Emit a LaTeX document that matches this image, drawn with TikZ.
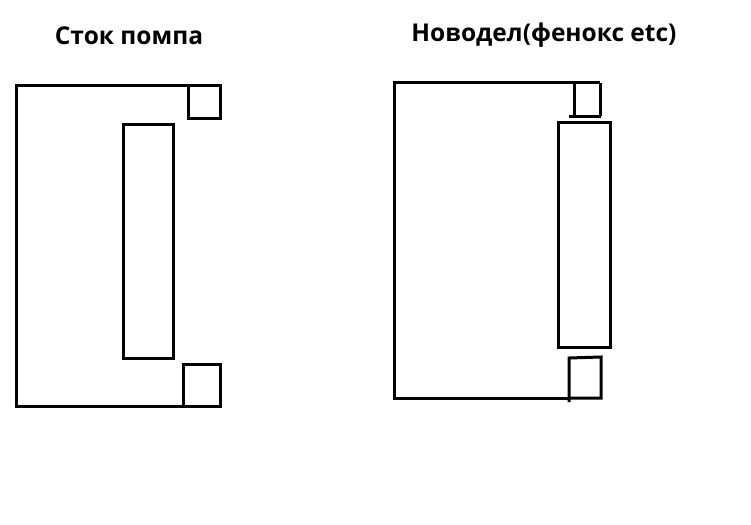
\documentclass[tikz,border=0pt]{standalone}
\usepackage{fontspec}
\setmainfont{Open Sans}
\usepackage{xcolor}

\begin{document}
\begin{tikzpicture}
	[
		x=1pt, y=-1pt,
		part/.style={draw=black, line width=3pt},
		title/.style={anchor=base, font=\bfseries\fontsize{24.5}{29}\selectfont}
	]

\useasboundingbox (0,0) rectangle (751,524);

% Titles
\node (stock) [title] at (129,45) {Сток помпа};
\node (remake) [title] at (544,42) {Новодел(фенокс etc)};

% Stock pump
\draw [part] (220,86) -- (16,86) -- (16,406) -- (220,406);
\draw [part] (188,86) rectangle (220,118);
\draw [part] (183,364) rectangle (220,406);
\draw [part] (123,124) rectangle (173,358);

% Remake
\draw [part] (600,83) -- (394,83) -- (394,398) -- (569,398);
\draw [part] (574,83) -- (574,116);
\draw [part] (569,116) -- (601,116);
\draw [part] (600,83) -- (600,116);
\draw [part] (558,122) rectangle (610,347);
\draw [part] (569,402) -- (569,358) -- (601,357) -- (601,398) -- (569,398);

\end{tikzpicture}
\end{document}
